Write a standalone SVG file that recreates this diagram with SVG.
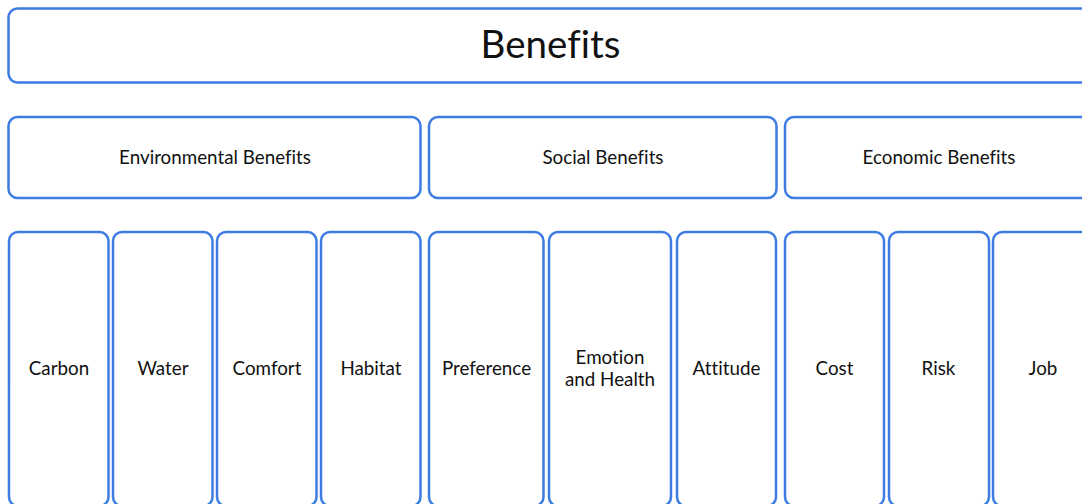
<svg xmlns="http://www.w3.org/2000/svg" width="1082" height="504" viewBox="0 0 1082 504">
<style>
rect{fill:#ffffff;stroke:#3d7ce2;stroke-width:2.5}
text{font-family:Lato,"Noto Sans",sans-serif;fill:#111111;text-anchor:middle;dominant-baseline:central;font-variant-ligatures:none}
.t{font-size:38.5px}
.m{font-size:18.8px}
.l{font-size:18.8px}
</style>
<g id="benefits"><rect x="8.5" y="8.5" width="1085" height="74" rx="9"/><text class="t" x="550.5" y="43">Benefits</text></g>
<g id="environmental"><rect x="8.5" y="117" width="412" height="81" rx="9"/><text class="m" x="215" y="156.5">Environmental Benefits</text></g>
<g id="social"><rect x="429" y="117" width="347.5" height="81" rx="9"/><text class="m" x="603" y="156.5">Social Benefits</text></g>
<g id="economic"><rect x="785" y="117" width="310" height="81" rx="9"/><text class="m" x="939" y="156.5">Economic Benefits</text></g>
<g id="carbon"><rect x="9" y="232" width="99.5" height="274" rx="9"/><text class="l" x="59" y="367.5">Carbon</text></g>
<g id="water"><rect x="113" y="232" width="99.5" height="274" rx="9"/><text class="l" x="163" y="367.5">Water</text></g>
<g id="comfort"><rect x="217" y="232" width="99.5" height="274" rx="9"/><text class="l" x="267" y="367.5">Comfort</text></g>
<g id="habitat"><rect x="321" y="232" width="99.5" height="274" rx="9"/><text class="l" x="371" y="367.5">Habitat</text></g>
<g id="preference"><rect x="429" y="232" width="114.5" height="274" rx="9"/><text class="l" x="486.5" y="367.5">Preference</text></g>
<g id="emotion"><rect x="549" y="232" width="122" height="274" rx="9"/><text class="l" x="610" y="356.5">Emotion</text><text class="l" x="610" y="378.5">and Health</text></g>
<g id="attitude"><rect x="677" y="232" width="99" height="274" rx="9"/><text class="l" x="726.5" y="367.5">Attitude</text></g>
<g id="cost"><rect x="785" y="232" width="99" height="274" rx="9"/><text class="l" x="834.5" y="367.5">Cost</text></g>
<g id="risk"><rect x="889" y="232" width="100" height="274" rx="9"/><text class="l" x="938.5" y="367.5">Risk</text></g>
<g id="job"><rect x="993" y="232" width="100" height="274" rx="9"/><text class="l" x="1043" y="367.5">Job</text></g>
<g id="connectors"></g>
</svg>
